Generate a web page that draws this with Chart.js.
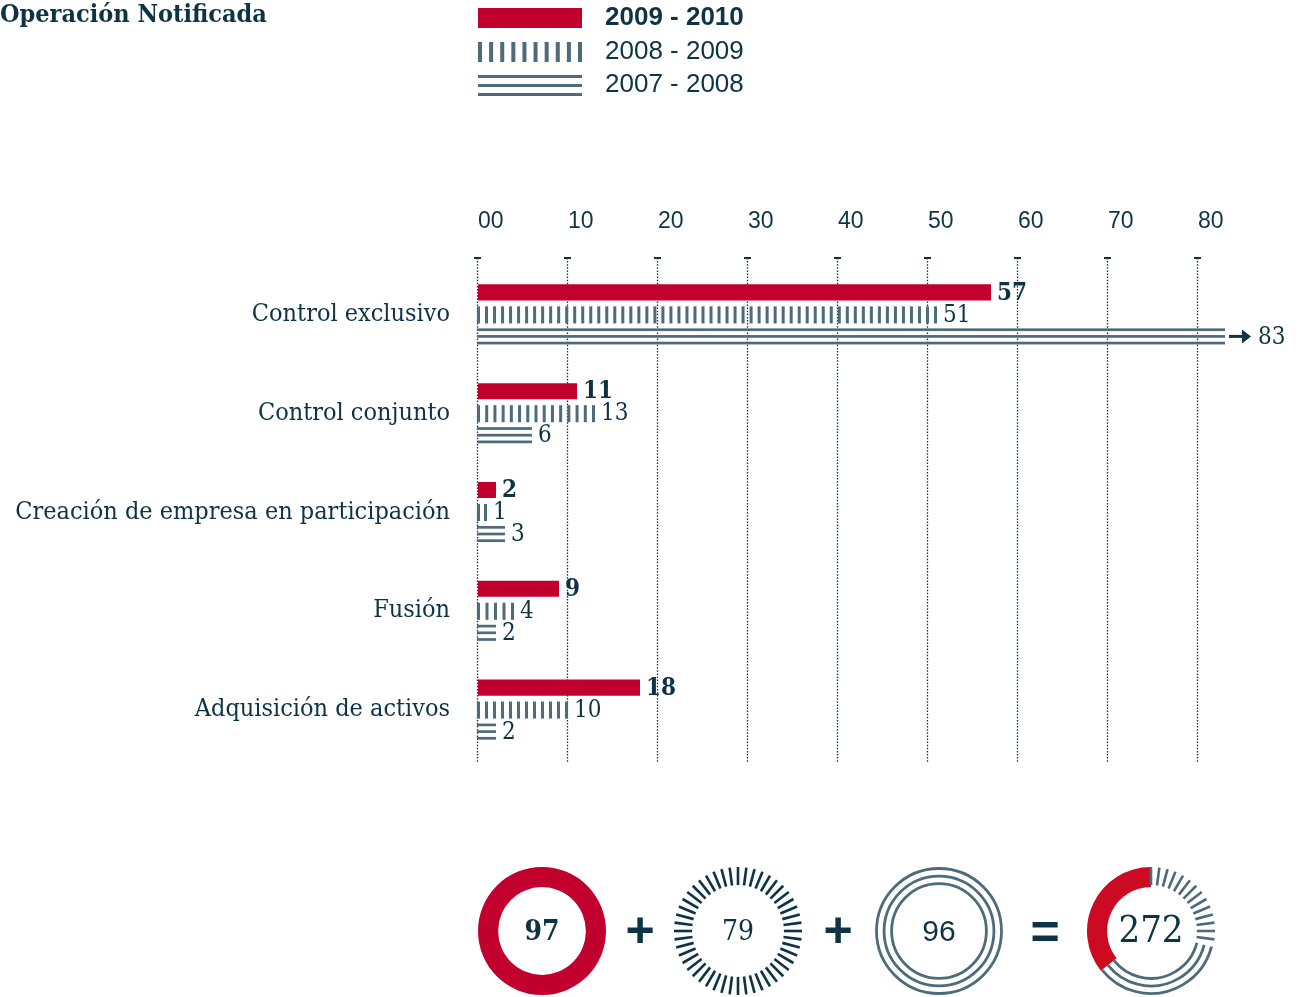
<!DOCTYPE html>
<html><head><meta charset="utf-8">
<script src="https://cdn.jsdelivr.net/npm/chart.js@4.4.1/dist/chart.umd.min.js"></script>
<style>
html,body{margin:0;padding:0;background:#fff;width:1303px;height:997px;overflow:hidden;position:relative}
canvas{position:absolute}
#title{position:absolute;left:0px;top:0px;font-family:"DejaVu Serif Condensed","DejaVu Serif",serif;font-weight:bold;font-size:25px;line-height:28px;color:#0d3345;z-index:5;white-space:nowrap}
.op{position:absolute;font-family:"Liberation Sans",Arial,sans-serif;font-weight:bold;color:#0d3345;font-size:50px;line-height:50px;transform:translate(-50%,-50%);z-index:5}
</style></head>
<body>
<canvas id="main" width="1303" height="800" style="left:0;top:0"></canvas>
<div id="title">Operación Notificada</div>
<canvas id="d0" width="140" height="140" style="left:472px;top:861px"></canvas>
<canvas id="d1" width="140" height="140" style="left:668px;top:861px"></canvas>
<canvas id="d2" width="140" height="140" style="left:869px;top:861px"></canvas>
<canvas id="d3" width="140" height="140" style="left:1081px;top:861px"></canvas>
<div class="op" style="left:640px;top:930px">+</div>
<div class="op" style="left:838px;top:930px">+</div>
<div class="op" style="left:1045px;top:932px">=</div>
<script>
// ---------- data ----------
const categories = ['Control exclusivo', 'Control conjunto', 'Creación de empresa en participación', 'Fusión', 'Adquisición de activos'];
const seriesLabels = ['2009 - 2010', '2008 - 2009', '2007 - 2008'];
const values2009_2010 = [57, 11, 2, 9, 18];
const values2008_2009 = [51, 13, 1, 4, 10];
const values2007_2008 = [83, 6, 3, 2, 2];
const tickLabels = ['00', '10', '20', '30', '40', '50', '60', '70', '80'];

// ---------- styles ----------
const RED = '#c2002d', RED2 = '#cc0a22', SLATE = '#4e6b79', DARK = '#0d3345';
const SERIF = '"DejaVu Serif Condensed","DejaVu Serif",serif';
const SANS = '"Liberation Sans",Arial,sans-serif';
const lastLabelValue = (tickLabels.length - 1) * 10;

const gridPlugin = {
  id: 'dottedGrid',
  beforeDatasetsDraw(chart) {
    const {ctx, chartArea: a, scales: {x}} = chart;
    ctx.save();
    ctx.strokeStyle = DARK;
    x.ticks.forEach((t, i) => {
      if (!tickLabels[i]) return;
      const px = Math.round(x.getPixelForValue(t.value)) - 0.5;
      ctx.lineWidth = 1.3; ctx.setLineDash([1.5, 1.6]);
      ctx.beginPath(); ctx.moveTo(px, a.top - 7); ctx.lineTo(px, a.bottom + 3); ctx.stroke();
      ctx.setLineDash([]); ctx.lineWidth = 2;
      ctx.beginPath(); ctx.moveTo(px - 3.5, a.top - 7); ctx.lineTo(px + 3.5, a.top - 7); ctx.stroke();
    });
    ctx.restore();
  }
};

function drawVStripes(ctx, x0, x1, y0, h, w, pitch) {
  const n = Math.max(2, Math.round((x1 - x0 - w) / pitch) + 1);
  const step = (x1 - x0 - w) / (n - 1);
  for (let i = 0; i < n; i++) ctx.fillRect(x0 + i * step, y0, w, h);
}
function drawHLines(ctx, x0, x1, y0, h, t) {
  ctx.fillRect(x0, y0, x1 - x0, t);
  ctx.fillRect(x0, y0 + h / 2 - t / 2, x1 - x0, t);
  ctx.fillRect(x0, y0 + h - t, x1 - x0, t);
}

const barStylePlugin = {
  id: 'barStyles',
  afterDatasetsDraw(chart) {
    const ctx = chart.ctx;
    chart.data.datasets.forEach((ds, di) => {
      const meta = chart.getDatasetMeta(di);
      meta.data.forEach(el => {
        const {x, y, base, height} = el.getProps(['x', 'y', 'base', 'height'], true);
        const x0 = Math.min(base, x), x1 = Math.max(base, x), y0 = y - height / 2;
        ctx.save(); ctx.fillStyle = SLATE;
        if (ds.barStyle === 'vstripes') drawVStripes(ctx, x0 - 1, x1, y0, height + 1, 3, 8);
        else if (ds.barStyle === 'hlines') drawHLines(ctx, x0 - 1, x1, y0, height, 2.7);
        ctx.restore();
      });
    });
  }
};

const valueLabelPlugin = {
  id: 'valueLabels',
  afterDatasetsDraw(chart) {
    const ctx = chart.ctx;
    chart.data.datasets.forEach((ds, di) => {
      const meta = chart.getDatasetMeta(di);
      meta.data.forEach((el, i) => {
        const v = ds.data[i];
        const {x, y} = el.getProps(['x', 'y'], true);
        let tx = x + 6;
        ctx.save();
        if (v > lastLabelValue) {
          const ax = x + 4;
          ctx.strokeStyle = DARK; ctx.fillStyle = DARK; ctx.lineWidth = 3;
          ctx.beginPath(); ctx.moveTo(ax, y); ctx.lineTo(ax + 14, y); ctx.stroke();
          ctx.beginPath(); ctx.moveTo(ax + 13, y - 7); ctx.lineTo(ax + 22, y); ctx.lineTo(ax + 13, y + 7); ctx.closePath(); ctx.fill();
          tx = ax + 29;
        }
        ctx.fillStyle = DARK;
        ctx.font = (di === 0 ? 'bold ' : '') + '24px ' + SERIF;
        ctx.textAlign = 'left'; ctx.textBaseline = 'middle';
        ctx.fillText(String(v), tx, y + 1);
        ctx.restore();
      });
    });
  }
};

const legendPlugin = {
  id: 'customLegend',
  afterDraw(chart) {
    const ctx = chart.ctx;
    const rows = [18, 52, 85];
    ctx.save();
    chart.data.datasets.forEach((ds, di) => {
      const cy = rows[di];
      if (ds.barStyle === 'solid') { ctx.fillStyle = RED; ctx.fillRect(478, cy - 10, 104, 20); }
      else if (ds.barStyle === 'vstripes') { ctx.fillStyle = SLATE; drawVStripes(ctx, 478, 582, cy - 10, 20, 4, 11); }
      else { ctx.fillStyle = SLATE; drawHLines(ctx, 478, 582, cy - 10, 21, 3); }
      ctx.fillStyle = DARK;
      ctx.font = (di === 0 ? 'bold ' : '') + '26px ' + SANS;
      ctx.textAlign = 'left'; ctx.textBaseline = 'middle';
      ctx.fillText(ds.label, 605, cy);
    });
    ctx.restore();
  }
};

new Chart(document.getElementById('main'), {
  type: 'bar',
  data: {
    labels: categories,
    datasets: [
      {label: seriesLabels[0], data: values2009_2010, backgroundColor: RED, barStyle: 'solid'},
      {label: seriesLabels[1], data: values2008_2009, backgroundColor: 'rgba(0,0,0,0)', barStyle: 'vstripes'},
      {label: seriesLabels[2], data: values2007_2008, backgroundColor: 'rgba(0,0,0,0)', barStyle: 'hlines'}
    ]
  },
  options: {
    indexAxis: 'y', responsive: false, animation: false, devicePixelRatio: 1,
    layout: {padding: {top: 0, left: 0, right: 15, bottom: 41}},
    datasets: {bar: {categoryPercentage: 0.668, barPercentage: 0.73, borderWidth: 0}},
    plugins: {legend: {display: false}, tooltip: {enabled: false}},
    scales: {
      x: {
        position: 'top', min: 0, max: 90,
        grid: {display: false, drawTicks: false, tickLength: 0}, border: {display: false},
        ticks: {stepSize: 10, align: 'start', padding: 30, color: DARK, font: {family: SANS, size: 23},
                autoSkip: false, maxRotation: 0, callback: (v, i) => tickLabels[i] ?? ''},
        afterFit: s => { s.height = 265; s.paddingLeft = 0; s.paddingRight = 0; }
      },
      y: {
        grid: {display: false, drawTicks: false, tickLength: 0}, border: {display: false},
        ticks: {padding: 28, color: DARK, font: {family: SERIF, size: 25}},
        afterFit: s => { s.width = 478; s.paddingTop = 0; s.paddingBottom = 0; }
      }
    }
  },
  plugins: [gridPlugin, barStylePlugin, valueLabelPlugin, legendPlugin]
});

// ---------- totals circles ----------
const sum = a => a.reduce((p, c) => p + c, 0);
const total2009_2010 = sum(values2009_2010);
const total2008_2009 = sum(values2008_2009);
const total2007_2008 = sum(values2007_2008);

const arcStylePlugin = {
  id: 'arcStyles',
  afterDatasetsDraw(chart) {
    const ctx = chart.ctx;
    const ds = chart.data.datasets[0];
    chart.getDatasetMeta(0).data.forEach((el, i) => {
      const {x, y, startAngle, endAngle, innerRadius, outerRadius} =
        el.getProps(['x', 'y', 'startAngle', 'endAngle', 'innerRadius', 'outerRadius'], true);
      const st = ds.arcStyles[i];
      ctx.save();
      if (st === 'ticks') {
        ctx.strokeStyle = ds.tickColor; ctx.lineWidth = 2.6;
        const step = Math.PI * 2 / 48;
        for (let a = startAngle; a < endAngle - step * 0.3; a += step) {
          ctx.beginPath();
          ctx.moveTo(x + Math.cos(a) * (innerRadius + 2), y + Math.sin(a) * (innerRadius + 2));
          ctx.lineTo(x + Math.cos(a) * outerRadius, y + Math.sin(a) * outerRadius);
          ctx.stroke();
        }
      } else if (st === 'rings') {
        ctx.strokeStyle = SLATE; ctx.lineWidth = 2.8;
        [outerRadius - 1.5, (outerRadius + innerRadius) / 2 + 1, innerRadius + 3.5].forEach(r => {
          ctx.beginPath(); ctx.arc(x, y, r, startAngle, endAngle); ctx.stroke();
        });
      }
      ctx.restore();
    });
    // centre text: the total of this circle
    const el0 = chart.getDatasetMeta(0).data[0];
    ctx.save();
    ctx.fillStyle = DARK; ctx.font = ds.centerFont;
    ctx.textAlign = 'center'; ctx.textBaseline = 'middle';
    ctx.fillText(String(sum(ds.data)), el0.x, el0.y + (ds.centerDy || 0));
    ctx.restore();
  }
};

function donut(id, labels, data, colors, arcStyles, tickColor, centerFont, centerDy) {
  new Chart(document.getElementById(id), {
    type: 'doughnut',
    data: {labels, datasets: [{data, backgroundColor: colors, borderWidth: 0, arcStyles, tickColor, centerFont, centerDy}]},
    options: {
      responsive: false, animation: false, devicePixelRatio: 1,
      radius: 64, cutout: 48, rotation: 0,
      layout: {padding: 0},
      plugins: {legend: {display: false}, tooltip: {enabled: false}}
    },
    plugins: [arcStylePlugin]
  });
}
const T = 'rgba(0,0,0,0)';
donut('d0', [seriesLabels[0]], [total2009_2010], [RED], ['solid'], DARK, 'bold 28px ' + SERIF, 2);
donut('d1', [seriesLabels[1]], [total2008_2009], [T], ['ticks'], DARK, '28px ' + SERIF, 2);
donut('d2', [seriesLabels[2]], [total2007_2008], [T], ['rings'], SLATE, '30px ' + SANS, 2);
donut('d3', [seriesLabels[1], seriesLabels[2], seriesLabels[0]],
      [total2008_2009, total2007_2008, total2009_2010], [T, T, RED2],
      ['ticks', 'rings', 'solid'], SLATE, '38px ' + SERIF, 1);
</script>
</body></html>
